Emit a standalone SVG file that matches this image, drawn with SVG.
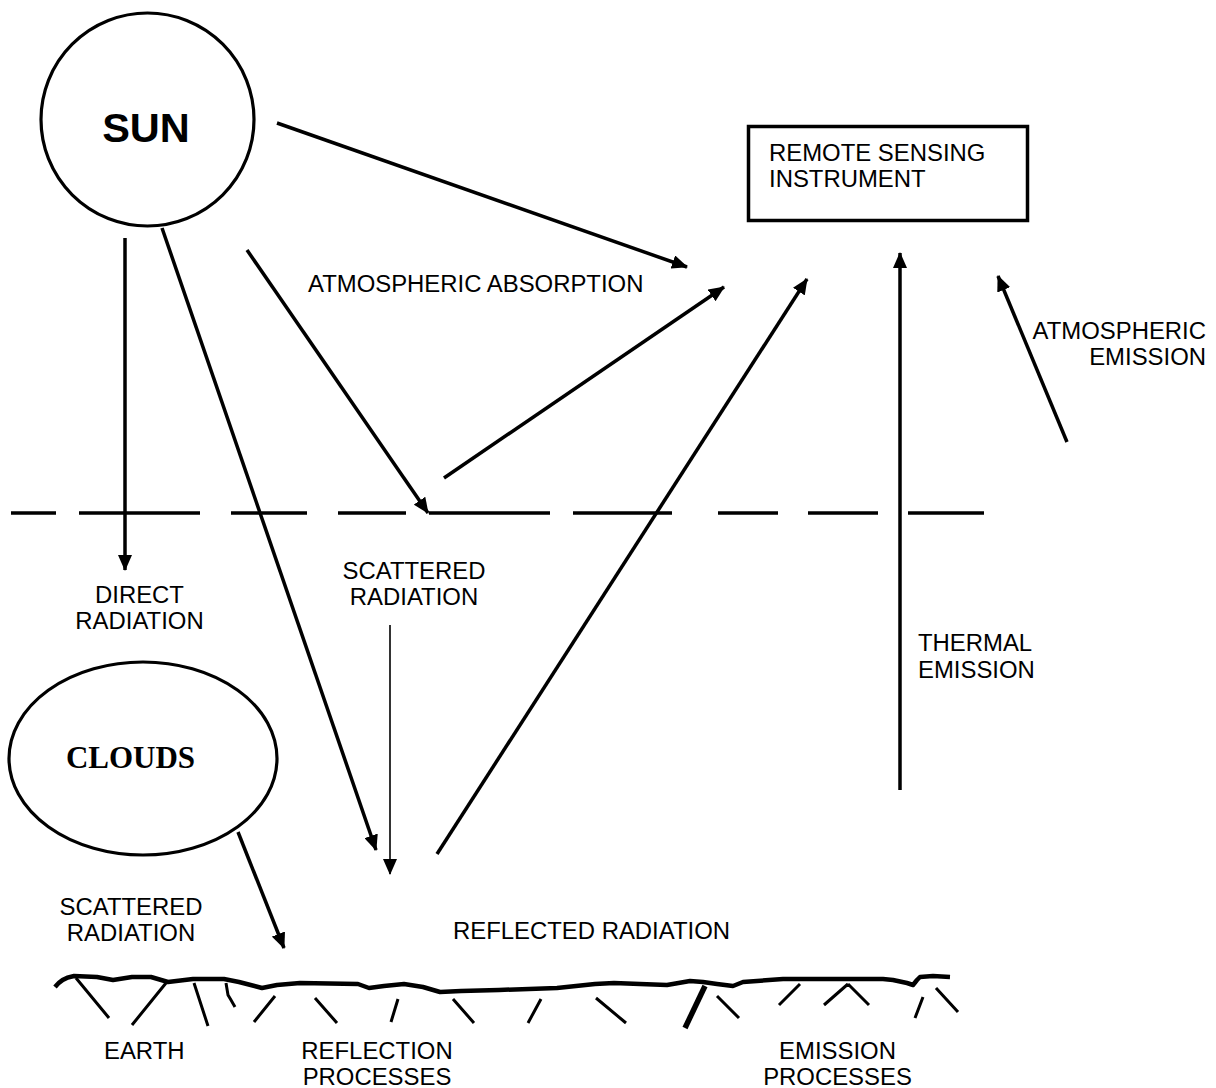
<svg xmlns="http://www.w3.org/2000/svg" width="1216" height="1088" viewBox="0 0 1216 1088">
<style>
text{font-family:"Liberation Sans",Arial,sans-serif;font-size:23.9px;fill:#000}
.c{text-anchor:middle}
.r{text-anchor:end}
.thick{stroke:#000;stroke-width:3.5;fill:none}
.thin{stroke:#000;stroke-width:1.6;fill:none}
.hatch{stroke:#000;stroke-width:3;fill:none;stroke-linecap:butt}
</style>
<defs>
<marker id="ah" viewBox="0 0 16 14" refX="15" refY="7" markerWidth="16" markerHeight="14" markerUnits="userSpaceOnUse" orient="auto">
<path d="M0,0 L16,7 L0,14 z" fill="#000"/>
</marker>
</defs>
<rect width="1216" height="1088" fill="#fff"/>
<g id="sun">
<circle cx="147.5" cy="119.5" r="106.5" fill="none" stroke="#000" stroke-width="3.2"/>
<text x="146" y="142" class="c" style="font-size:41.5px;font-weight:bold">SUN</text>
</g>
<g id="instrument">
<rect x="748.5" y="126.5" width="279" height="94" fill="none" stroke="#000" stroke-width="3.5"/>
<text x="769" y="161">REMOTE SENSING</text>
<text x="769" y="187">INSTRUMENT</text>
</g>
<g id="clouds">
<ellipse cx="143" cy="758.5" rx="134" ry="96.5" fill="none" stroke="#000" stroke-width="3.2"/>
<text x="130.5" y="768" class="c" style="font-family:'Liberation Serif','Times New Roman',serif;font-size:31px;font-weight:bold">CLOUDS</text>
</g>
<g id="atmosphere-boundary">
<path class="thick" d="M11,513H56M79,513H200M231,513H307M338,513H406M429,513H550M573,513H672M718,513H778M808,513H878M908,513H984"/>
</g>
<g id="earth">
<path d="M55,987 C60,981 64,978 74,976 L97,977 L113,980 L132,977 L151,977 L168,982 L193,979 L224,979 L239,982 L262,988 L277,985 L300,983 L358,984 L369,988 L384,986 L404,984 L423,987 L440,992 L461,991 L499,990 L557,988 L595,984 L614,983 L640,984 L667,985 L690,981 L703,982 L717,984 L733,986 L743,982 L757,981 L783,979 L833,979 L883,979 L893,980 L907,983 L913,985 L917,980 L920,977 L933,976 L950,977" fill="none" stroke="#000" stroke-width="4.5" stroke-linejoin="round"/>
<path class="hatch" d="M76,978L109,1018 M166,983L132,1025 M194,983L208,1026 M226,983L228,995L231,1000L235,1007 M275,996L254,1022 M315,998L337,1023 M398,999L391,1022 M453,999L474,1023 M541,999L528,1023 M596,998L626,1023 M717,996L739,1018 M800,984L779,1005 M848,984L824,1005 M848,984L869,1005 M923,997L915,1018 M936,988L958,1012"/>
<path d="M705,986L685,1028" fill="none" stroke="#000" stroke-width="5.5"/>
</g>
<g id="connectors">
<line class="thick" x1="277" y1="123" x2="687" y2="267" marker-end="url(#ah)"/>
<line class="thick" x1="125" y1="238" x2="125" y2="570" marker-end="url(#ah)"/>
<line class="thick" x1="162" y1="228" x2="376" y2="850" marker-end="url(#ah)"/>
<line class="thick" x1="247" y1="250" x2="428" y2="513" marker-end="url(#ah)"/>
<line class="thick" x1="444" y1="478" x2="724" y2="287" marker-end="url(#ah)"/>
<line class="thick" x1="437" y1="854" x2="807" y2="279" marker-end="url(#ah)"/>
<line class="thick" x1="900" y1="790" x2="900" y2="253" marker-end="url(#ah)"/>
<line class="thick" x1="1067" y1="442" x2="998" y2="276" marker-end="url(#ah)"/>
<line class="thin" x1="390" y1="625" x2="390" y2="874" marker-end="url(#ah)"/>
<line class="thick" x1="238" y1="832" x2="284" y2="948" marker-end="url(#ah)"/>
</g>
<g id="labels">
<text x="308" y="292">ATMOSPHERIC ABSORPTION</text>
<text x="1206" y="339" class="r">ATMOSPHERIC</text>
<text x="1206" y="365" class="r">EMISSION</text>
<text x="139.5" y="603" class="c">DIRECT</text>
<text x="139.5" y="629" class="c">RADIATION</text>
<text x="414" y="579" class="c">SCATTERED</text>
<text x="414" y="605" class="c">RADIATION</text>
<text x="918" y="651">THERMAL</text>
<text x="918" y="678">EMISSION</text>
<text x="131" y="915" class="c">SCATTERED</text>
<text x="131" y="941" class="c">RADIATION</text>
<text x="453" y="939">REFLECTED RADIATION</text>
<text x="104" y="1059">EARTH</text>
<text x="377" y="1059" class="c">REFLECTION</text>
<text x="377" y="1085" class="c">PROCESSES</text>
<text x="837.5" y="1059" class="c">EMISSION</text>
<text x="837.5" y="1085" class="c">PROCESSES</text>
</g>
</svg>
